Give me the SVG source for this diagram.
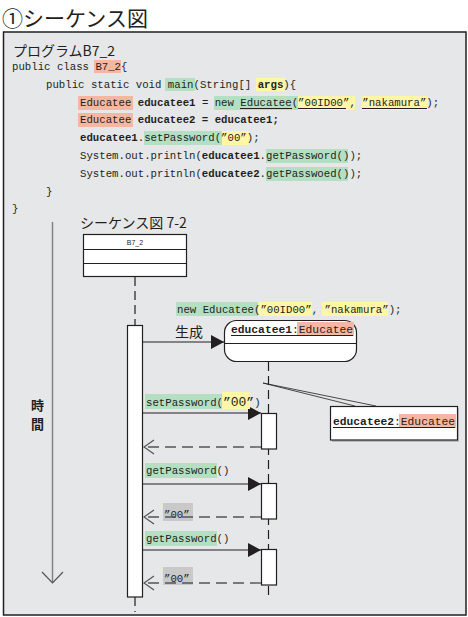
<svg xmlns="http://www.w3.org/2000/svg" width="468" height="617" viewBox="0 0 468 617">
<defs>
<style>
.jp{font-family:"Noto Sans CJK JP","Noto Sans",sans-serif;fill:#231f20}
.code{font-family:"Liberation Mono",monospace;font-size:10.7px;fill:#231f20}
.obj{font-family:"Liberation Mono",monospace;font-size:11.3px;fill:#231f20}
.b{font-weight:bold}
.g{fill:#b5dfc3}
.y{fill:#fff6a8}
.s{fill:#f6b7a2}
.gr{fill:#c9c9c9}
.ln{stroke:#231f20;stroke-width:1.2;fill:none}
.life{stroke:#231f20;stroke-width:1.2;stroke-dasharray:9 5;fill:none}
.ret{stroke:#555;stroke-width:1.4;stroke-dasharray:11 6;fill:none}
.box{fill:#fff;stroke:#231f20;stroke-width:1.2}
.ul{stroke:#231f20;stroke-width:1}
</style>
<marker id="fill" markerWidth="14" markerHeight="14" refX="13" refY="7" orient="auto" markerUnits="userSpaceOnUse"><path d="M0,0 L13,7 L0,14 Z" fill="#231f20"/></marker>
<marker id="open" markerWidth="14" markerHeight="16" refX="11" refY="8" orient="auto" markerUnits="userSpaceOnUse"><path d="M1,1 L11,8 L1,15" fill="none" stroke="#555" stroke-width="1.2"/></marker>
</defs>
<rect width="468" height="617" fill="#fff"/>
<text class="jp" x="2" y="26" font-size="21">①シーケンス図</text>
<rect x="3.5" y="32" width="462.5" height="583" fill="#e6e7e8" stroke="#231f20" stroke-width="1.5"/>

<g id="program">
<text class="jp" x="13" y="56" font-size="14">プログラムB7_2</text>
<rect class="s" x="94" y="60" width="27" height="13"/>
<text class="code" x="12" y="70">public class B7_2{</text>
<rect class="g" x="165" y="78" width="30" height="13"/>
<rect class="y" x="256" y="78" width="29" height="13"/>
<text class="code" x="46" y="88">public static void main(String[] <tspan class="b">args</tspan>){</text>
<rect class="s" x="78" y="96" width="55" height="14"/>
<rect class="g" x="214" y="96" width="84" height="14"/>
<rect class="y" x="298" y="96" width="57" height="14"/>
<rect class="y" x="362" y="96" width="66" height="14"/>
<text class="code" x="80" y="106">Educatee <tspan class="b">educatee1</tspan> = new Educatee(”00ID00”, ”nakamura”);</text>
<line class="ul" x1="240" y1="108.5" x2="292" y2="108.5"/>
<line class="ul" x1="298" y1="108.5" x2="346" y2="108.5"/>
<line class="ul" x1="362" y1="108.5" x2="427" y2="108.5"/>
<rect class="s" x="78" y="113" width="55" height="14"/>
<text class="code" x="80" y="123">Educatee <tspan class="b">educatee2 = educatee1;</tspan></text>
<rect class="g" x="144" y="131" width="78" height="14"/>
<rect class="y" x="222" y="131" width="27" height="14"/>
<text class="code" x="80" y="141"><tspan class="b">educatee1</tspan>.setPassword(”00”);</text>
<rect class="g" x="266" y="149" width="82" height="14"/>
<text class="code" x="80" y="159">System.out.println(<tspan class="b">educatee1</tspan>.getPassword());</text>
<rect class="g" x="266" y="167" width="82" height="14"/>
<text class="code" x="80" y="177">System.out.pritnln(<tspan class="b">educatee2</tspan>.getPasswoed());</text>
<text class="code" x="46" y="195">}</text>
<text class="code" x="12" y="212">}</text>
<text class="jp" x="80" y="228" font-size="14">シーケンス図 7-2</text>
</g>

<g id="time">
<line x1="52.5" y1="222" x2="52.5" y2="583" stroke="#808080" stroke-width="1.4"/>
<path d="M42,572 L52.5,583 L63,572" fill="none" stroke="#555" stroke-width="1.2"/>
<text class="jp b" x="31" y="410" font-size="13">時</text>
<text class="jp b" x="31" y="429" font-size="13">間</text>
</g>

<g id="connectors">
<line class="life" x1="135" y1="277" x2="135" y2="325"/>
<line class="life" x1="135" y1="597" x2="135" y2="612"/>
<line class="life" x1="268.5" y1="362" x2="268.5" y2="596"/>
<line class="ln" x1="143" y1="342" x2="224" y2="342" marker-end="url(#fill)"/>
<line class="ln" x1="143" y1="413" x2="261" y2="413" marker-end="url(#fill)"/>
<line class="ret" x1="261" y1="447" x2="144" y2="447" marker-end="url(#open)"/>
<line class="ln" x1="143" y1="484" x2="261" y2="484" marker-end="url(#fill)"/>
<line class="ln" x1="143" y1="550" x2="261" y2="550" marker-end="url(#fill)"/>
<line x1="263" y1="383" x2="376" y2="406" stroke="#231f20" stroke-width="0.8"/>
<line x1="263" y1="383" x2="355" y2="406" stroke="#231f20" stroke-width="0.8"/>
</g>

<g id="B7_2">
<rect class="box" x="83.5" y="234.5" width="103" height="42"/>
<line class="ln" x1="83.5" y1="249.5" x2="186.5" y2="249.5"/>
<line class="ln" x1="83.5" y1="263.5" x2="186.5" y2="263.5"/>
<text x="135" y="245" font-family="Liberation Sans,sans-serif" font-size="7" text-anchor="middle" fill="#231f20">B7_2</text>
<rect class="box" x="127.5" y="325.5" width="15" height="271.5"/>
</g>

<g id="new-label">
<rect class="g" x="176" y="302" width="82" height="14"/>
<rect class="y" x="258" y="302" width="54" height="14"/>
<rect class="y" x="322" y="302" width="66" height="14"/>
<text class="code" x="177" y="313">new Educatee(”00ID00”, ”nakamura”);</text>
<text class="jp" x="175" y="337" font-size="14">生成</text>
</g>

<g id="educatee1">
<rect x="224.5" y="320.5" width="132" height="41" rx="12" fill="#fff" stroke="#231f20" stroke-width="1.2"/>
<line class="ln" x1="224.5" y1="343.5" x2="357" y2="343.5"/>
<rect class="s" x="297" y="322" width="57" height="14"/>
<text class="obj" x="231" y="333"><tspan class="b">educatee1</tspan>:Educatee</text>
<line class="ul" x1="231" y1="335.5" x2="353" y2="335.5"/>
<rect class="box" x="261.5" y="413.5" width="15" height="35.5"/>
<rect class="box" x="261.5" y="483.5" width="15" height="35.5"/>
<rect class="box" x="261.5" y="549.5" width="15" height="35.5"/>
</g>

<g id="educatee2">
<rect x="332" y="408" width="127" height="34" fill="#bbb"/>
<rect class="box" x="330.5" y="406.5" width="127" height="33.5"/>
<rect class="s" x="399" y="414" width="57" height="14"/>
<text class="obj" x="333" y="425"><tspan class="b">educatee2</tspan>:Educatee</text>
<line class="ul" x1="333" y1="427.5" x2="455" y2="427.5"/>
</g>

<g id="messages">
<rect class="g" x="145" y="394" width="77" height="15"/>
<rect class="y" x="222" y="392" width="28" height="17"/>
<text class="code" x="146" y="406">setPassword(<tspan font-size="13">”00”</tspan>)</text>
<rect class="g" x="145" y="463" width="72" height="15"/>
<text class="code" x="146" y="474">getPassword()</text>
<rect class="gr" x="163" y="503" width="30" height="18"/>
<text class="code" x="164" y="518" font-size="13">”00”</text>
<line class="ret" x1="261" y1="517" x2="144" y2="517" marker-end="url(#open)"/>
<rect class="g" x="145" y="531" width="72" height="15"/>
<text class="code" x="146" y="542">getPassword()</text>
<rect class="gr" x="163" y="567" width="30" height="18"/>
<text class="code" x="164" y="582" font-size="13">”00”</text>
<line class="ret" x1="261" y1="583" x2="144" y2="583" marker-end="url(#open)"/>
</g>
</svg>
